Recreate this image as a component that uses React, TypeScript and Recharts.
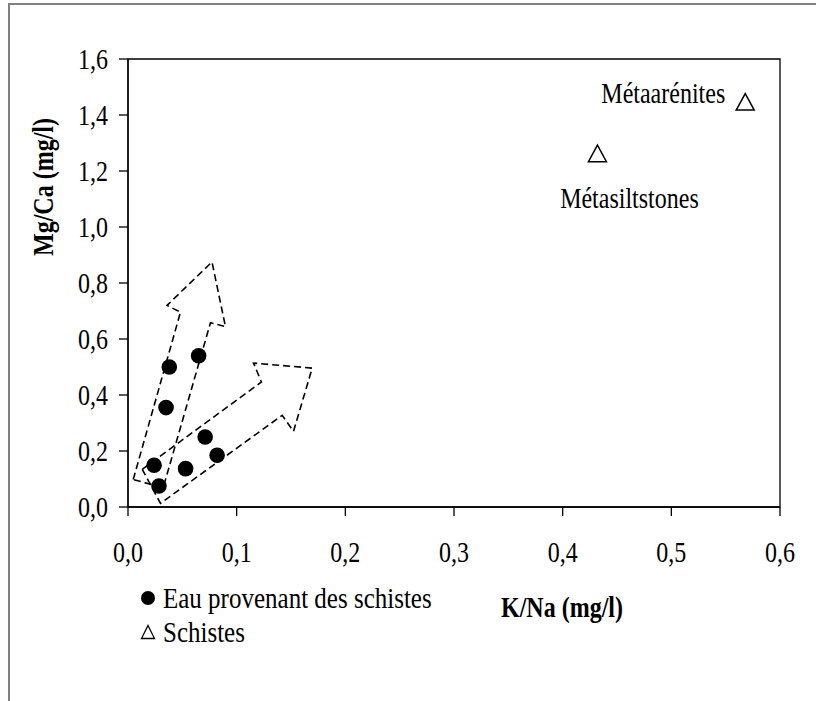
import {
  ScatterChart,
  Scatter,
  XAxis,
  YAxis,
  ReferenceArea,
  Legend,
} from "recharts";

// Eau provenant des schistes
const waterK = [0.038, 0.065, 0.035, 0.071, 0.082, 0.024, 0.053, 0.0285];
const waterMgCa = [0.5, 0.54, 0.355, 0.25, 0.185, 0.149, 0.137, 0.075];

// Schistes
const schistNames = ["Métaarénites", "Métasiltstones"];
const schistK = [0.568, 0.432];
const schistMgCa = [1.446, 1.262];

// dashed arrow outlines (data units, closed)
const arrowSteepK = [0.0048, 0.0483, 0.0359, 0.0773, 0.0897, 0.0759, 0.0324, 0.0048];
const arrowSteepMgCa = [0.098, 0.696, 0.72, 0.875, 0.644, 0.658, 0.069, 0.098];
const arrowFlatK = [0.0131, 0.1228, 0.1155, 0.1695, 0.1523, 0.1419, 0.0299, 0.0131];
const arrowFlatMgCa = [0.1346, 0.4464, 0.514, 0.496, 0.27, 0.3275, 0.013, 0.1346];

const xTicks = [0, 0.1, 0.2, 0.3, 0.4, 0.5, 0.6];
const yTicks = [0, 0.2, 0.4, 0.6, 0.8, 1.0, 1.2, 1.4, 1.6];

const zip = (xs: number[], ys: number[]) => xs.map((x, i) => ({ x, y: ys[i] }));
const waterData = zip(waterK, waterMgCa);
const schistData = schistK.map((x, i) => ({ x, y: schistMgCa[i], name: schistNames[i] }));
const arrowSteep = zip(arrowSteepK, arrowSteepMgCa);
const arrowFlat = zip(arrowFlatK, arrowFlatMgCa);

const FONT = '"Liberation Serif", "Times New Roman", serif';
const SY = 1.22;
const fmt = (v: number) => v.toFixed(1).replace(".", ",");

const labelPlace: Record<string, { dx: number; dy: number; anchor: "end" | "middle" }> = {
  "Métaarénites": { dx: -20, dy: -9, anchor: "end" },
  "Métasiltstones": { dx: 32, dy: 44, anchor: "middle" },
};

const XTick = ({ x, y, payload }: any) => (
  <text
    transform={`translate(${x},${y + 34}) scale(1,${SY})`}
    textAnchor="middle"
    dy="0.35em"
    fontFamily={FONT}
    fontSize={24}
    fill="#000"
  >
    {fmt(payload.value)}
  </text>
);

const YTick = ({ x, y, payload }: any) => (
  <text
    transform={`translate(${x - 9},${y}) scale(1,${SY})`}
    textAnchor="end"
    dy="0.35em"
    fontFamily={FONT}
    fontSize={24}
    fill="#000"
  >
    {fmt(payload.value)}
  </text>
);

const Dot = ({ cx, cy }: any) => <circle cx={cx} cy={cy} r={7.8} fill="#000" />;

const Triangle = ({ cx, cy, payload }: any) => {
  const p = labelPlace[payload.name];
  return (
    <g>
      <path
        d={`M${cx},${cy - 8.5} L${cx + 9},${cy + 8} L${cx - 9},${cy + 8} Z`}
        fill="none"
        stroke="#000"
        strokeWidth={1.5}
      />
      {p && (
        <text
          transform={`translate(${cx + p.dx},${cy + p.dy}) scale(1,${SY})`}
          textAnchor={p.anchor}
          dy="0.35em"
          fontFamily={FONT}
          fontSize={24}
          fill="#000"
        >
          {payload.name}
        </text>
      )}
    </g>
  );
};

const NoShape = () => <g />;

const LegendBox = ({ payload }: any) => (
  <div style={{ fontFamily: FONT, fontSize: 25, color: "#000" }}>
    {(payload || [])
      .filter((e: any) => e.type !== "none" && e.value)
      .map((e: any) => (
        <div key={e.value} style={{ height: 34, display: "flex", alignItems: "center" }}>
          <svg width={18} height={18} style={{ marginRight: 6 }}>
            {e.value === "Schistes" ? (
              <path d="M9,2.5 L15.5,15.5 L2.5,15.5 Z" fill="none" stroke="#000" strokeWidth={1.3} />
            ) : (
              <circle cx={9} cy={9} r={7} fill="#000" />
            )}
          </svg>
          <span style={{ display: "inline-block", transform: `scaleY(${SY})`, whiteSpace: "nowrap" }}>
            {e.value}
          </span>
        </div>
      ))}
  </div>
);

const XLabel = ({ viewBox }: any) => (
  <text
    transform={`translate(${viewBox.x + 434},${viewBox.y + 100}) scale(1,${SY})`}
    textAnchor="middle"
    dy="0.35em"
    fontFamily={FONT}
    fontSize={24}
    fontWeight="bold"
    fill="#000"
  >
    K/Na (mg/l)
  </text>
);

const YLabel = ({ viewBox }: any) => (
  <text
    transform={`translate(43,${viewBox.y + 128}) rotate(-90) scale(1,${SY})`}
    textAnchor="middle"
    dy="0.35em"
    fontFamily={FONT}
    fontSize={24}
    fontWeight="bold"
    fill="#000"
  >
    Mg/Ca (mg/l)
  </text>
);

const dashed = { stroke: "#000", strokeWidth: 1.6, strokeDasharray: "7 4" };

export default function App() {
  return (
    <div style={{ position: "absolute", left: 0, top: 0, width: 816, height: 701, background: "#fff" }}>
      <div
        style={{
          position: "absolute",
          left: 8,
          top: 3,
          width: 820,
          height: 710,
          borderLeft: "2px solid #808080",
          borderTop: "2px solid #808080",
        }}
      />
      <ScatterChart width={816} height={701} margin={{ top: 59, right: 36, left: 0, bottom: 134 }}>
        <XAxis
          type="number"
          dataKey="x"
          domain={[0, 0.6]}
          ticks={xTicks}
          tick={<XTick />}
          tickSize={9}
          height={60}
          stroke="#000"
          strokeWidth={1.3}
          allowDataOverflow
          label={<XLabel />}
        />
        <YAxis
          type="number"
          dataKey="y"
          domain={[0, 1.6]}
          ticks={yTicks}
          tick={<YTick />}
          tickSize={9}
          width={128}
          stroke="#000"
          strokeWidth={1.3}
          allowDataOverflow
          label={<YLabel />}
        />
        <ReferenceArea x1={0} x2={0.6} y1={0} y2={1.6} fill="none" stroke="#000" strokeWidth={1.3} />
        <Scatter
          data={arrowSteep}
          line={dashed}
          lineType="joint"
          shape={<NoShape />}
          legendType="none"
          isAnimationActive={false}
        />
        <Scatter
          data={arrowFlat}
          line={dashed}
          lineType="joint"
          shape={<NoShape />}
          legendType="none"
          isAnimationActive={false}
        />
        <Scatter
          name="Eau provenant des schistes"
          data={waterData}
          shape={<Dot />}
          isAnimationActive={false}
        />
        <Scatter name="Schistes" data={schistData} shape={<Triangle />} isAnimationActive={false} />
        <Legend
          layout="vertical"
          align="center"
          verticalAlign="middle"
          content={<LegendBox />}
          wrapperStyle={{ left: 139, top: 581, width: 340 }}
        />
      </ScatterChart>
    </div>
  );
}
